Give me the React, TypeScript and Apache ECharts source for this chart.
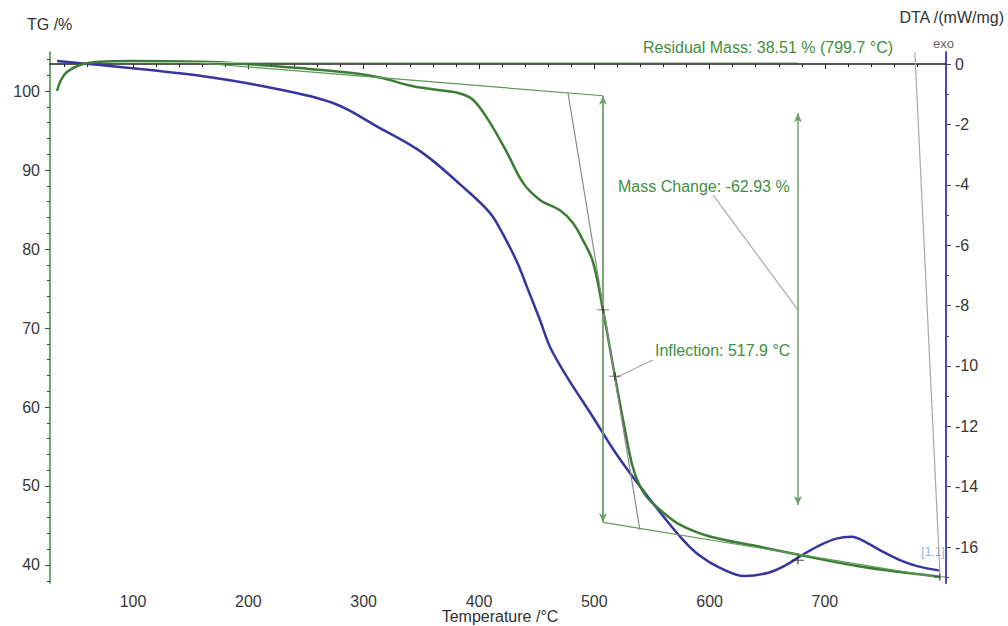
import React, { useEffect, useRef } from "react";
import * as echarts from "echarts";

// ---- axis ticks ----
const xMajorTicks = [100, 200, 300, 400, 500, 600, 700];
const xMinorTicks: number[] = [];
for (let v = 40; v <= 800; v += 20) if (v % 100 !== 0) xMinorTicks.push(v);
const tgMajorTicks = [40, 50, 60, 70, 80, 90, 100];
const tgMinorTicks: number[] = [];
for (let v = 38; v <= 104; v += 2) if (v % 10 !== 0) tgMinorTicks.push(v);
const dtaMajorTicks = [0, -2, -4, -6, -8, -10, -12, -14, -16];
const dtaMinorTicks = [-1, -3, -5, -7, -9, -11, -13, -15, -17];

// ---- TG curve (temperature °C, mass %) ----
const tgTemp = [34.1, 37.5, 42.7, 54.0, 71.4, 97.4, 158.1, 201.4, 244.8, 288.1, 314.1, 342.8, 366.2, 380.9, 394.8, 409.5, 424.3, 438.1, 452.9, 470.2, 481.5, 490.2, 498.8, 507.5, 517.9, 528.3, 533.0, 538.0, 545.0, 556.9, 574.2, 600.2, 643.6, 687.0, 730.4, 765.0, 799.7];
const tgMass = [100.0, 101.4, 102.4, 103.3, 103.7, 103.8, 103.7, 103.4, 102.9, 102.3, 101.7, 100.6, 100.1, 99.8, 98.9, 96.0, 92.2, 88.4, 86.2, 84.9, 83.3, 81.1, 78.4, 72.3, 63.9, 55.8, 52.6, 50.5, 48.7, 47.0, 45.1, 43.6, 42.3, 41.0, 39.8, 39.1, 38.5];

// ---- DTA curve (temperature °C, mW/mg) ----
const dtaTemp = [34.1, 71.4, 114.7, 158.1, 216.2, 273.4, 314.1, 351.4, 386.1, 409.5, 421.0, 432.9, 441.6, 452.9, 461.6, 476.3, 498.8, 516.2, 533.5, 556.9, 576.9, 591.6, 609.0, 630.0, 650.0, 665.0, 680.0, 695.0, 710.0, 723.0, 736.0, 750.0, 765.0, 780.0, 799.7];
const dtaSignal = [0.10, -0.03, -0.20, -0.39, -0.76, -1.29, -2.12, -2.95, -4.07, -4.93, -5.65, -6.55, -7.38, -8.48, -9.37, -10.36, -11.69, -12.75, -13.68, -14.84, -15.76, -16.29, -16.69, -16.96, -16.86, -16.62, -16.27, -15.95, -15.72, -15.66, -15.85, -16.15, -16.43, -16.63, -16.78];

// ---- evaluation annotations (TG axis coordinates) ----
const upperBaseline = [[158.1, 103.55], [507.5, 99.4]];
const topLine = [[120, 103.67], [676.6, 103.67]];
const lowerBaseline = [[507.5, 45.4], [799.7, 38.4]];
const tangentLine = [[477.2, 99.75], [539.6, 44.43]];
const massArrow1 = [[507.5, 99.4], [507.5, 45.4]];
const massArrow2 = [[676.6, 97.2], [676.6, 47.6]];
const massLeader = [[602.9, 86.84], [676.6, 72.3]];
const inflectionLeader = [[550.9, 65.95], [517.9, 63.67]];
const residualLeader = [[778.0, 104.9], [799.7, 39.1]];
const tgMarkers = [[507.5, 72.3], [517.9, 63.9], [676.6, 40.6], [799.7, 38.5]];

const X_MIN = 28, X_MAX = 805;
const TG_MIN = 37.72, TG_MAX = 104.94;
const DTA_MIN = -17.19, DTA_MAX = 0.4;

const FONT = '"Liberation Sans", Arial, sans-serif';
const GREEN = "#3b7d35";
const GREEN_TXT = "#3f8f3f";
const GREEN_ANN = "#5a9a55";
const BLUE = "#36369e";
const GREY = "#a8a8a8";

const seg = (pts: number[][], color: string, width = 1.2) => [
  { coord: pts[0], lineStyle: { color, width, type: "solid" } },
  { coord: pts[1] },
];

const txt = (text: string, x: number, y: number, fill: string, align = "left", size = 16) => ({
  type: "text",
  x,
  y,
  silent: true,
  style: {
    text,
    fill,
    font: `${size}px ${FONT}`,
    textAlign: align,
    align,
    textVerticalAlign: "middle",
    verticalAlign: "middle",
  },
});

export default function App() {
  const ref = useRef<HTMLDivElement>(null);
  useEffect(() => {
    if (!ref.current) return;
    const chart = echarts.init(ref.current, null, { renderer: "svg" });
    const labelStyle = { color: "#383838", fontSize: 16, fontFamily: FONT };
    const minorAxisBase = {
      type: "value",
      axisLine: { show: false },
      axisLabel: { show: false },
      splitLine: { show: false },
    };
    chart.setOption({
      animation: false,
      backgroundColor: "#ffffff",
      grid: { left: 50, right: 62, top: 52, bottom: 43 },
      xAxis: [
        {
          type: "value",
          min: X_MIN,
          max: X_MAX,
          axisLine: { show: true, lineStyle: { color: "#222", width: 1.5 } },
          axisTick: { show: true, customValues: xMajorTicks, length: 5, lineStyle: { color: "#222" } },
          axisLabel: { ...labelStyle, customValues: xMajorTicks, margin: 10 },
          splitLine: { show: false },
        },
        {
          ...minorAxisBase,
          min: X_MIN,
          max: X_MAX,
          position: "bottom",
          axisTick: { show: true, customValues: xMinorTicks, length: 3, lineStyle: { color: "#222" } },
        },
      ],
      yAxis: [
        {
          type: "value",
          min: TG_MIN,
          max: TG_MAX,
          position: "left",
          axisLine: { show: true, lineStyle: { color: "#3f8a3f", width: 1.5 } },
          axisTick: { show: true, customValues: tgMajorTicks, length: 5, lineStyle: { color: "#444" } },
          axisLabel: { ...labelStyle, customValues: tgMajorTicks, margin: 10 },
          splitLine: { show: false },
        },
        {
          type: "value",
          min: DTA_MIN,
          max: DTA_MAX,
          position: "right",
          axisLine: { show: true, lineStyle: { color: "#4a4ac4", width: 2 } },
          axisTick: { show: true, customValues: dtaMajorTicks, length: 5, lineStyle: { color: "#444" } },
          axisLabel: { ...labelStyle, customValues: dtaMajorTicks, margin: 9 },
          splitLine: { show: false },
        },
        {
          ...minorAxisBase,
          min: TG_MIN,
          max: TG_MAX,
          position: "left",
          axisTick: { show: true, customValues: tgMinorTicks, length: 3, lineStyle: { color: "#444" } },
        },
        {
          ...minorAxisBase,
          min: DTA_MIN,
          max: DTA_MAX,
          position: "right",
          axisTick: { show: true, customValues: dtaMinorTicks, length: 3, lineStyle: { color: "#444" } },
        },
      ],
      series: [
        {
          name: "TG",
          type: "line",
          xAxisIndex: 0,
          yAxisIndex: 0,
          data: tgTemp.map((t, i) => [t, tgMass[i]]),
          showSymbol: false,
          smooth: 0.35,
          lineStyle: { color: GREEN, width: 2.5 },
          z: 4,
          markLine: {
            silent: true,
            symbol: ["none", "none"],
            label: { show: false },
            emphasis: { disabled: true },
            data: [
              seg(upperBaseline, GREEN_ANN),
              seg(topLine, "#a9cfa4"),
              seg(lowerBaseline, GREEN_ANN),
              seg(tangentLine, "#8a8a8a"),
              seg(massLeader, GREY),
              seg(inflectionLeader, GREY),
              seg(residualLeader, GREY),
            ],
          },
        },
        {
          name: "DTA",
          type: "line",
          xAxisIndex: 0,
          yAxisIndex: 1,
          data: dtaTemp.map((t, i) => [t, dtaSignal[i]]),
          showSymbol: false,
          smooth: 0.35,
          lineStyle: { color: BLUE, width: 2.5 },
          z: 3,
        },
        {
          name: "markers",
          type: "scatter",
          xAxisIndex: 0,
          yAxisIndex: 0,
          data: tgMarkers,
          symbol: "path://M0,4H12M6,0V8",
          symbolSize: [12, 8],
          itemStyle: { color: "transparent", borderColor: "#222", borderWidth: 1 },
          z: 6,
          markLine: {
            silent: true,
            symbol: ["arrow", "arrow"],
            symbolSize: [6, 9],
            label: { show: false },
            emphasis: { disabled: true },
            data: [seg(massArrow1, "#6f9f6a", 1.8), seg(massArrow2, "#6f9f6a", 1.5)],
          },
        },
      ],
      graphic: [
        txt("TG /%", 27, 24, "#333"),
        txt("DTA /(mW/mg)", 1004, 17, "#333", "right"),
        txt("exo", 933, 43, "#666", "left", 13),
        txt("Residual Mass: 38.51 % (799.7 °C)", 643, 47, GREEN_TXT),
        txt("Mass Change: -62.93 %", 618, 186, GREEN_TXT),
        txt("Inflection: 517.9 °C", 655, 350, GREEN_TXT),
        txt("Temperature /°C", 500, 616, "#333", "center"),
        txt("[1.1]", 933, 552, "#8fb3d0", "center", 12),
      ],
    });
    return () => chart.dispose();
  }, []);
  return (
    <div
      ref={ref}
      style={{ position: "fixed", left: 0, top: 0, width: 1008, height: 626, background: "#fff" }}
    />
  );
}
